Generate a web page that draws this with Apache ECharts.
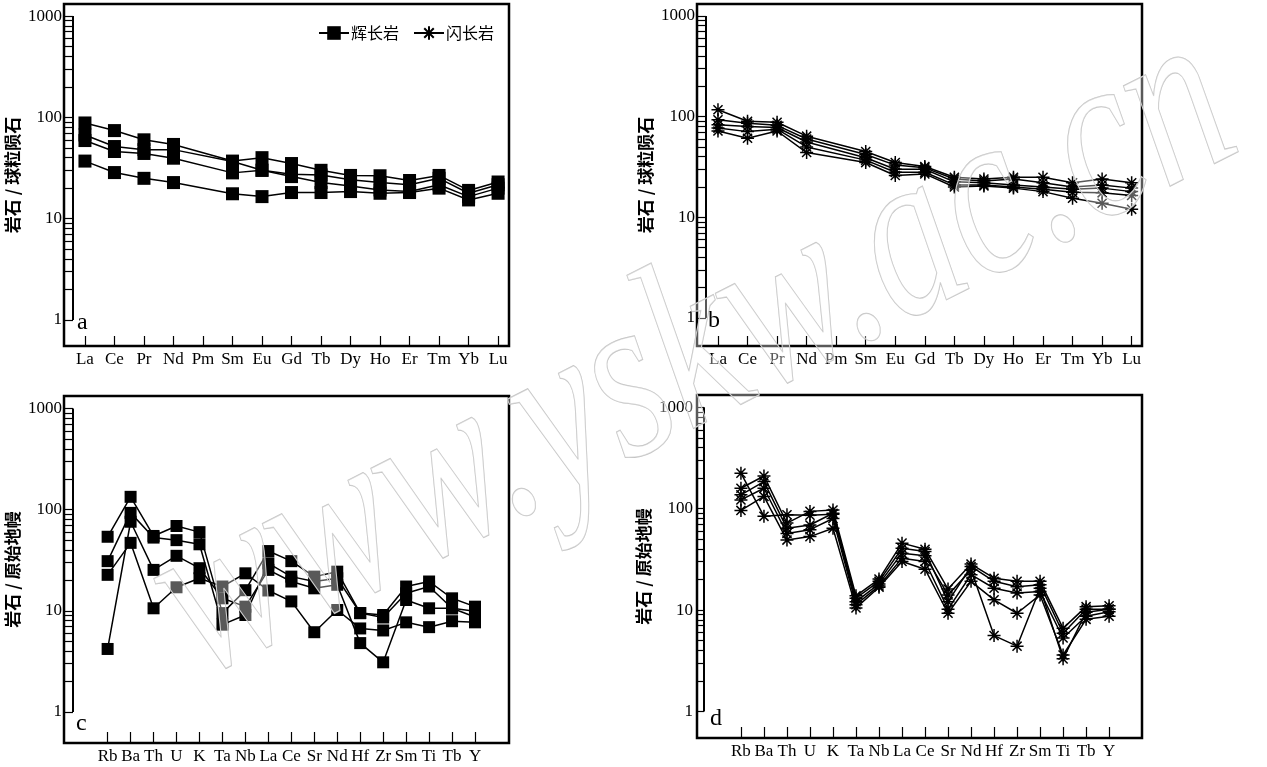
<!DOCTYPE html>
<html>
<head>
<meta charset="utf-8">
<title>REE and spider diagrams</title>
<script src="https://cdn.jsdelivr.net/npm/echarts@6/dist/echarts.min.js"></script>
<style>
    html, body {margin: 0; padding: 0; background: #fff;}
    #main {width: 1267px; height: 767px;}
</style>
</head>
<body>
<div id="main"></div>
<script>
// element names on the x axes
var reeNames = ['La', 'Ce', 'Pr', 'Nd', 'Pm', 'Sm', 'Eu', 'Gd', 'Tb', 'Dy', 'Ho', 'Er', 'Tm', 'Yb', 'Lu'];
var spiderNames = ['Rb', 'Ba', 'Th', 'U', 'K', 'Ta', 'Nb', 'La', 'Ce', 'Sr', 'Nd', 'Hf', 'Zr', 'Sm', 'Ti', 'Tb', 'Y'];

// y tick labels (log axis)
var yLabels = [1, 10, 100, 1000];

// a: gabbro / chondrite (Pm not analysed)
var gabbroRee1 = [88, 74, 60, 54, null, 37, 40, 35, 30, 26.7, 26.5, 23.8, 26.7, 19, 23];
var gabbroRee2 = [67, 51.5, 48, 48, null, 36.6, 30, 27.5, 27, 24.2, 22.7, 21.6, 25, 17.8, 21.6];
var gabbroRee3 = [59, 46, 44, 39.5, null, 28.3, 30, 26, 22.7, 21, 19.2, 18.5, 21.6, 16.5, 20];
var gabbroRee4 = [37, 28.5, 25, 22.7, null, 17.6, 16.5, 18.1, 18.1, 18.5, 17.8, 18.1, 20, 15.3, 17.8];

// b: diorite / chondrite
var dioriteRee1 = [117, 90, 88, 64, null, 45, 35, 32, 25, 24, 25, 25, 22, 24, 22];
var dioriteRee2 = [93, 86, 82, 60, null, 42, 33, 31, 24, 23, 24, 22, 20, 21, 19.5];
var dioriteRee3 = [83, 80, 78, 56, null, 39, 30, 30, 22.5, 22, 21, 20, 19, 19.5, 18];
var dioriteRee4 = [77, 71, 75, 50, null, 37, 28, 28, 21, 21, 20, 19, 17.7, 17.5, 16.5];
var dioriteRee5 = [72, 61, 72, 44, null, 35, 26, 27, 20, 20.5, 19.5, 18, 15.5, 13.8, 12];

// c: gabbro / primitive mantle
var gabbroPm1 = [54, 134, 55, 69, 60, 9.5, 16, 39, 31, 21.8, 24.4, 9.5, 9.1, 17.4, 19.5, 13.3, 11];
var gabbroPm2 = [31, 93, 53, 50, 45.5, 7.3, 9.1, 29.5, 21.8, 19.5, 21, 9.5, 8.6, 14.9, 17.4, 10.6, 9.9];
var gabbroPm3 = [4.2, 76, 25.4, 35, 26.4, 13.3, 11, 25.4, 19.5, 16.7, 18.1, 4.8, 3.1, 12.8, 10.6, 10.6, 8.7];
var gabbroPm4 = [22.7, 47, 10.6, 17.1, 21, 17.4, 23.5, 15.9, 12.4, 6.15, 10.2, 6.7, 6.4, 7.7, 6.9, 7.9, 7.7];

// d: diorite / primitive mantle
var dioritePm1 = [224, 84, 87, 86, 88, 12.1, 18.1, 36.4, 34.3, 14.1, 24.9, 5.6, 4.4, 16.4, 3.3, 9.5, 10.2];
var dioritePm2 = [159, 210, 72, 94, 97, 13.8, 20.2, 45.7, 39.8, 16.1, 28.4, 20.6, 19.2, 19.2, 6.6, 10.8, 11];
var dioritePm3 = [137, 185, 64, 69, 90, 13.1, 19.2, 40.7, 37.8, 12.1, 26.9, 19.2, 17, 17.8, 5.9, 10.2, 10.2];
var dioritePm4 = [122, 159, 57, 62, 80, 11.3, 17.3, 32.5, 30.1, 10.2, 22.3, 16.4, 14.7, 15.2, 5.3, 8.7, 9.6];
var dioritePm5 = [96, 132, 49, 53, 64, 10.5, 16.8, 30.1, 25.3, 9.3, 19.2, 12.6, 9.3, 14.1, 3.6, 8.1, 8.7];

var minorTicks = [];
for (var p = 0; p < 3; p++) {
    for (var m = 1; m < 10; m++) {
        minorTicks.push(m * Math.pow(10, p));
    }
}
minorTicks.push(1000);

var serif = '"Liberation Serif", "Times New Roman", serif';
var cjk = '"Noto Sans CJK SC", sans-serif';
var star = 'path://M6,0L6,12M0,6L12,6M1.8,1.8L10.2,10.2M1.8,10.2L10.2,1.8';

// one panel per entry
var panels = [
    {grid: {left: 64, top: 4, width: 445, height: 342}, names: reeNames, xMin: -0.71, xMax: 14.37,
        yMin: 0.553, yMax: 1315, off: 9, tick: 10, yName: '岩石 / 球粒陨石'},
    {grid: {left: 697, top: 4, width: 445, height: 342}, names: reeNames, xMin: -0.71, xMax: 14.35,
        yMin: 0.527, yMax: 1315, off: 9, tick: 10, yName: '岩石 / 球粒陨石'},
    {grid: {left: 64, top: 396, width: 445, height: 347}, names: spiderNames, xMin: -1.9, xMax: 17.48,
        yMin: 0.494, yMax: 1330, off: 9, tick: 11, yName: '岩石 / 原始地幔'},
    {grid: {left: 697, top: 395, width: 445, height: 343}, names: spiderNames, xMin: -1.91, xMax: 17.43,
        yMin: 0.547, yMax: 1321, off: 7, tick: 11, yName: '岩石 / 原始地幔'}
];

var grids = [], xAxes = [], yAxes = [], series = [];

panels.forEach(function (pn, i) {
    var g = pn.grid;
    grids.push({left: g.left, top: g.top, width: g.width, height: g.height,
        show: true, borderColor: '#000', borderWidth: 2.5, backgroundColor: 'transparent'});

    var idx = pn.names.map(function (n, k) { return k; });
    xAxes.push({
        type: 'value', gridIndex: i, min: pn.xMin, max: pn.xMax,
        axisLine: {show: false, onZero: false}, splitLine: {show: false},
        axisTick: {show: true, inside: true, length: pn.tick, customValues: idx,
            lineStyle: {color: '#000', width: 1.2}},
        axisLabel: {customValues: idx, margin: 5, color: '#000', fontFamily: serif, fontSize: 17,
            formatter: function (v) { return pn.names[Math.round(v)]; }}
    });

    yAxes.push({
        type: 'log', logBase: 10, gridIndex: i, min: pn.yMin, max: pn.yMax, offset: -pn.off,
        axisLine: {show: false, onZero: false}, splitLine: {show: false}, minorTick: {show: false},
        axisTick: {show: true, length: pn.off, customValues: minorTicks,
            lineStyle: {color: '#000', width: 1.2}},
        axisLabel: {customValues: yLabels, margin: 11, color: '#000', fontFamily: serif, fontSize: 17,
            formatter: function (v) { return String(Math.round(v)); }},
        name: pn.yName, nameLocation: 'middle', nameGap: 52,
        nameTextStyle: {color: '#000', fontFamily: cjk, fontSize: 17, fontWeight: 'bold'}
    });
});

function addLines(list, gi, name, symbol, size) {
    var pn = panels[gi];
    list.forEach(function (arr, k) {
        var s = {
            type: 'line', name: name, xAxisIndex: gi, yAxisIndex: gi,
            data: arr.map(function (v, j) { return [j, v]; }),
            connectNulls: true, symbol: symbol, symbolSize: size,
            lineStyle: {color: '#000', width: 1.5},
            itemStyle: {color: '#000', borderColor: '#000', borderWidth: symbol === 'rect' ? 0 : 1.5},
            emphasis: {disabled: true}, animation: false
        };
        if (k === 0) {
            // left spine of the y axis, from 1 to 1000
            var sx = pn.xMin + pn.off * (pn.xMax - pn.xMin) / pn.grid.width;
            s.markLine = {
                silent: true, symbol: ['none', 'none'], label: {show: false}, animation: false,
                lineStyle: {color: '#000', width: 2, type: 'solid'},
                emphasis: {disabled: true},
                data: [[{coord: [sx, 1]}, {coord: [sx, 1000]}]]
            };
        }
        series.push(s);
    });
}

addLines([gabbroRee1, gabbroRee2, gabbroRee3, gabbroRee4], 0, '辉长岩', 'rect', 13);
addLines([dioriteRee1, dioriteRee2, dioriteRee3, dioriteRee4, dioriteRee5], 1, '闪长岩', star, 13);
addLines([gabbroPm1, gabbroPm2, gabbroPm3, gabbroPm4], 2, '辉长岩', 'rect', 12);
addLines([dioritePm1, dioritePm2, dioritePm3, dioritePm4, dioritePm5], 3, '闪长岩', star, 13);

var letterStyle = {color: '#000', fontFamily: serif, fontSize: 24, fontWeight: 'normal'};

var chart = echarts.init(document.getElementById('main'), null, {renderer: 'canvas'});
chart.setOption({
    animation: false,
    backgroundColor: '#fff',
    title: [
        {text: 'a', left: 77, top: 311, padding: 0, textStyle: letterStyle},
        {text: 'b', left: 708, top: 309, padding: 0, textStyle: letterStyle},
        {text: 'c', left: 76, top: 712, padding: 0, textStyle: letterStyle},
        {text: 'd', left: 710, top: 707, padding: 0, textStyle: letterStyle}
    ],
    legend: {
        data: ['辉长岩', '闪长岩'], left: 318, top: 25, itemWidth: 30, itemHeight: 17, itemGap: 14,
        selectedMode: false, padding: 0,
        textStyle: {color: '#000', fontFamily: cjk, fontSize: 16, padding: [0, 0, 0, -3]}
    },
    grid: grids,
    xAxis: xAxes,
    yAxis: yAxes,
    series: series,
    graphic: [{
        type: 'text', x: 225, y: 730, rotation: 0.47, scaleX: 0.76, z: 100, silent: true,
        style: {
            text: 'www.yskw.ac.cn', font: 'italic 240px ' + serif,
            fill: 'rgba(255,255,255,0.35)', stroke: '#c4c4c4', lineWidth: 1.3,
            verticalAlign: 'bottom'
        }
    }]
});
</script>
</body>
</html>
